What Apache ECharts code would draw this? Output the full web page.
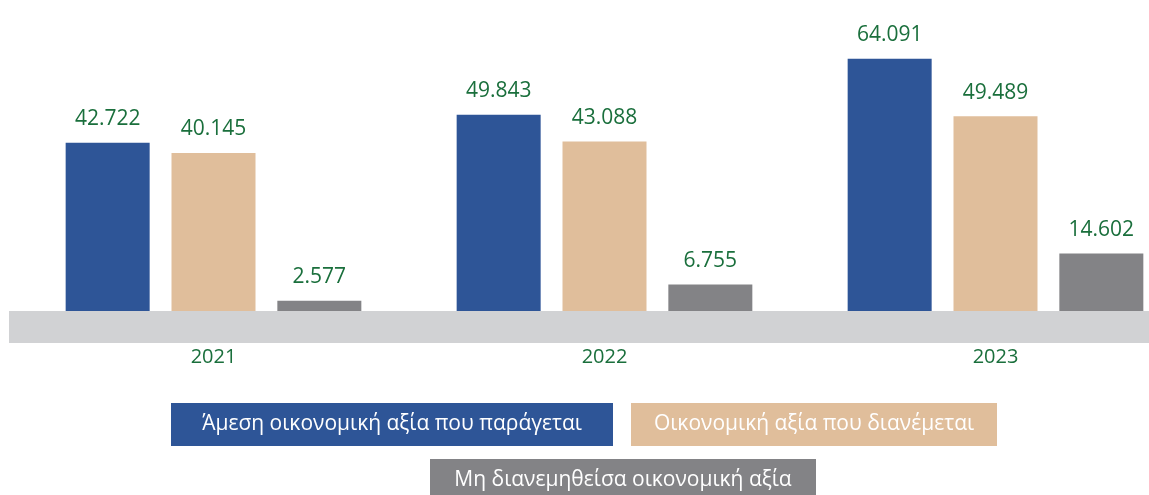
<!DOCTYPE html>
<html><head><meta charset="utf-8">
<script src="https://cdn.jsdelivr.net/npm/echarts@6/dist/echarts.min.js"></script>
<style>html,body{margin:0;padding:0;background:#fff}#c{width:1149px;height:495px}</style>
</head><body><div id="c"></div>
<script>
const categories = ['2021', '2022', '2023'];
const seriesNames = ['Άμεση οικονομική αξία που παράγεται', 'Οικονομική αξία που διανέμεται', 'Μη διανεμηθείσα οικονομική αξία'];
const directValue = [42.722, 49.843, 64.091];
const distributedValue = [40.145, 43.088, 49.489];
const retainedValue = [2.577, 6.755, 14.602];

const colors = ['#2e5597', '#e0be9b', '#838386'];
const green = '#1a6f3c';
const font = '"Open Sans", "Noto Sans", sans-serif';

const chart = echarts.init(document.getElementById('c'));
const label = {
  show: true, position: 'top', distance: 13, color: green, fontSize: 21, fontFamily: font,
  formatter: p => p.value.toFixed(3)
};
function bar(name, data, color) {
  return { name, type: 'bar', data, barWidth: 84, barGap: '26%', itemStyle: { color }, label, z: 3 };
}
function legendItem(i, w) {
  return { name: seriesNames[i], textStyle: {
    rich: { b: {
      backgroundColor: colors[i], color: '#fff', width: w, height: 43, lineHeight: 43,
      align: 'center', fontSize: 21, fontFamily: font } } } };
}
chart.setOption({
  animation: false,
  grid: { left: 18, top: 0, right: -42, height: 311, containLabel: false, outerBoundsMode: 'none' },
  xAxis: {
    type: 'category', data: categories,
    axisLine: { show: false }, axisTick: { show: false },
    axisLabel: { color: green, fontSize: 20, fontFamily: font, margin: 36 }
  },
  yAxis: { type: 'value', min: 0, max: 79, show: false, splitLine: { show: false } },
  graphic: [{
    type: 'rect', left: 9, top: 311, shape: { width: 1140, height: 32 },
    style: { fill: '#d1d2d4' }, z: 0, silent: true
  }],
  legend: [
    { left: 161, top: 398, itemWidth: 0, itemHeight: 0, icon: 'rect', itemGap: 13, selectedMode: false,
      formatter: '{b|{name}}', data: [legendItem(0, 442), legendItem(1, 366)] },
    { left: 420, top: 454, itemWidth: 0, itemHeight: 0, icon: 'rect', selectedMode: false,
      formatter: '{b|{name}}', data: [legendItem(2, 386)] }
  ],
  series: [
    bar(seriesNames[0], directValue, colors[0]),
    bar(seriesNames[1], distributedValue, colors[1]),
    bar(seriesNames[2], retainedValue, colors[2])
  ]
});
</script></body></html>
